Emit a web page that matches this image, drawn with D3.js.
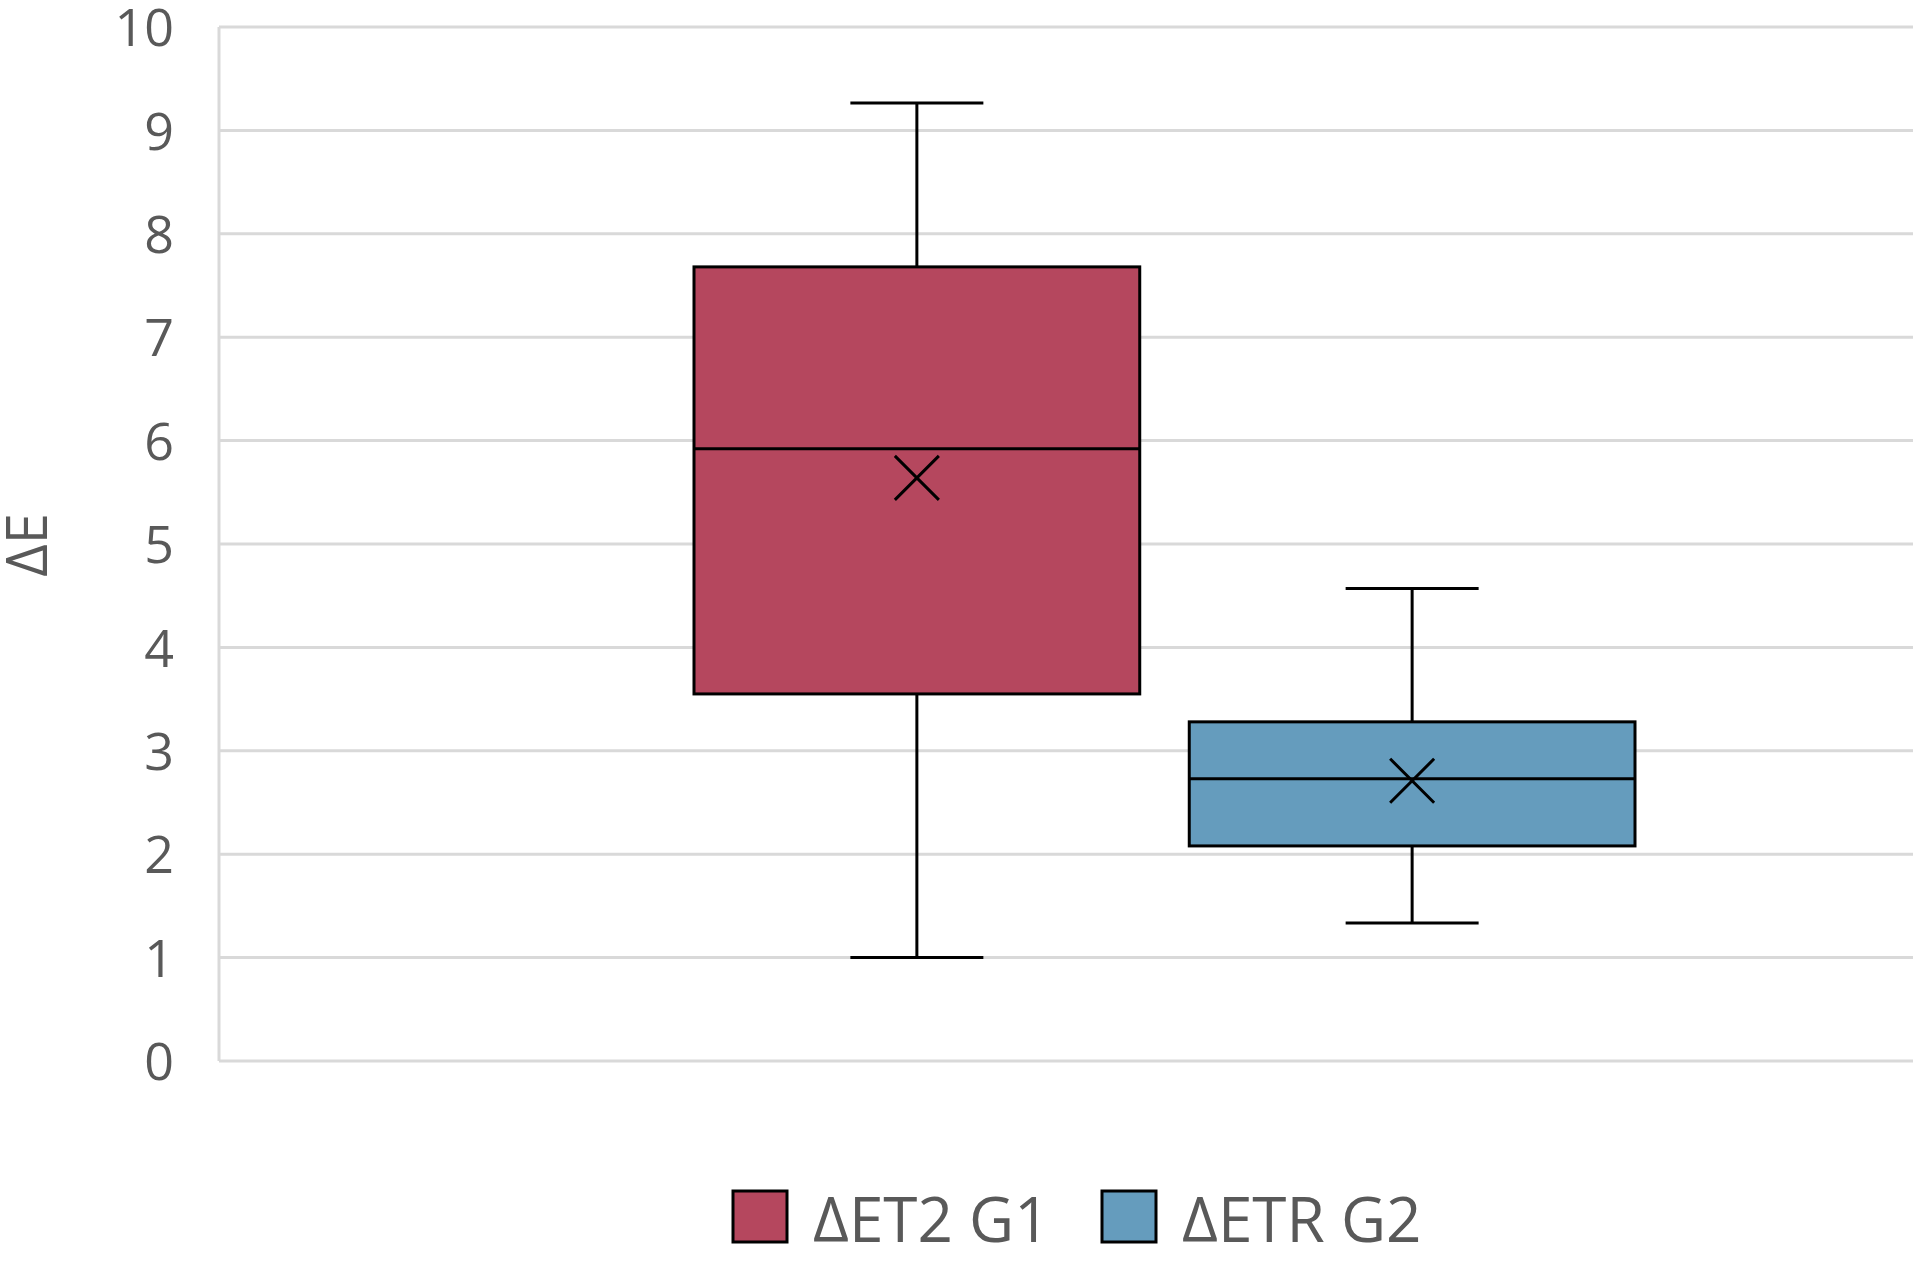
<!DOCTYPE html>
<html>
<head>
<meta charset="utf-8">
<script src="https://cdn.jsdelivr.net/npm/d3@7"></script>
<style>
body { margin: 0; background: #fff; }
text { font-family: "Open Sans", "Noto Sans", sans-serif; fill: #595959; }
</style>
</head>
<body>
<div id="chart"></div>
<script>
// data
var series = ["ΔET2 G1", "ΔETR G2"];
var colors = ["#b5475e", "#659cbd"];
var whiskerLow = [1.0, 1.335];
var q1 = [3.55, 2.08];
var median = [5.92, 2.73];
var q3 = [7.68, 3.28];
var whiskerHigh = [9.265, 4.57];
var means = [5.64, 2.71];
var yTicks = [0, 1, 2, 3, 4, 5, 6, 7, 8, 9, 10];

var width = 1913, height = 1263;
var margin = { top: 27, left: 219, bottom: 202 };

var svg = d3.select("#chart").append("svg")
	.attr("width", width)
	.attr("height", height);

var y = d3.scaleLinear()
	.domain([0, 10])
	.range([height - margin.bottom, margin.top]);

// plot area runs past the right edge of the picture
var x = d3.scaleBand()
	.domain(series)
	.range([694, 1635])
	.paddingInner(0.1);

// gridlines
svg.append("g")
	.selectAll("line")
	.data(yTicks)
	.enter().append("line")
	.attr("x1", margin.left)
	.attr("x2", width)
	.attr("y1", function (d) { return y(d); })
	.attr("y2", function (d) { return y(d); })
	.style("stroke", "#d9d9d9")
	.style("stroke-width", 3);

svg.append("line")
	.attr("x1", margin.left).attr("x2", margin.left)
	.attr("y1", y(10)).attr("y2", y(0))
	.style("stroke", "#d9d9d9")
	.style("stroke-width", 3);

// y axis labels
var yAxis = svg.append("g")
	.attr("transform", "translate(" + 174 + ",0)")
	.call(d3.axisLeft(y).tickValues(yTicks).tickSize(0).tickPadding(0));
yAxis.select(".domain").remove();
yAxis.selectAll("text")
	.attr("dy", "0.36em")
	.style("font-size", "52px")
	.style("font-family", "'Open Sans', sans-serif")
	.attr("fill", "#595959");

svg.append("text")
	.attr("transform", "translate(47," + 545 + ") rotate(-90)")
	.attr("text-anchor", "middle")
	.style("font-size", "56px")
	.text("ΔE");

// boxes
var boxes = svg.append("g").selectAll("g")
	.data(series)
	.enter().append("g");

var cx = function (d) { return x(d) + x.bandwidth() / 2; };
var capW = 133;

boxes.append("line")
	.attr("x1", cx).attr("x2", cx)
	.attr("y1", function (d, i) { return y(whiskerHigh[i]); })
	.attr("y2", function (d, i) { return y(whiskerLow[i]); })
	.style("stroke", "#000").style("stroke-width", 3);

boxes.selectAll(".cap")
	.data(function (d, i) { return [{ c: cx(d), v: whiskerLow[i] }, { c: cx(d), v: whiskerHigh[i] }]; })
	.enter().append("line")
	.attr("class", "cap")
	.attr("x1", function (d) { return d.c - capW / 2; })
	.attr("x2", function (d) { return d.c + capW / 2; })
	.attr("y1", function (d) { return y(d.v); })
	.attr("y2", function (d) { return y(d.v); })
	.style("stroke", "#000").style("stroke-width", 3);

boxes.append("rect")
	.attr("x", function (d) { return x(d); })
	.attr("width", x.bandwidth())
	.attr("y", function (d, i) { return y(q3[i]); })
	.attr("height", function (d, i) { return y(q1[i]) - y(q3[i]); })
	.style("fill", function (d, i) { return colors[i]; })
	.style("stroke", "#000").style("stroke-width", 3);

boxes.append("line")
	.attr("x1", function (d) { return x(d); })
	.attr("x2", function (d) { return x(d) + x.bandwidth(); })
	.attr("y1", function (d, i) { return y(median[i]); })
	.attr("y2", function (d, i) { return y(median[i]); })
	.style("stroke", "#000").style("stroke-width", 3);

// mean marker
var m = 22;
boxes.append("path")
	.attr("d", function (d, i) {
		var px = cx(d), py = y(means[i]);
		return "M" + (px - m) + "," + (py - m) + "L" + (px + m) + "," + (py + m) +
			"M" + (px - m) + "," + (py + m) + "L" + (px + m) + "," + (py - m);
	})
	.style("stroke", "#000").style("stroke-width", 3).style("fill", "none");

// legend
var legendX = [733, 1102];
var legend = svg.append("g").selectAll("g")
	.data(series)
	.enter().append("g")
	.attr("transform", function (d, i) { return "translate(" + legendX[i] + ",1191)"; });

legend.append("rect")
	.attr("width", 54).attr("height", 51)
	.style("fill", function (d, i) { return colors[i]; })
	.style("stroke", "#000").style("stroke-width", 3);

legend.append("text")
	.attr("x", 80)
	.attr("y", 51)
	.style("font-size", "62px")
	.text(function (d) { return d; });
</script>
</body>
</html>
